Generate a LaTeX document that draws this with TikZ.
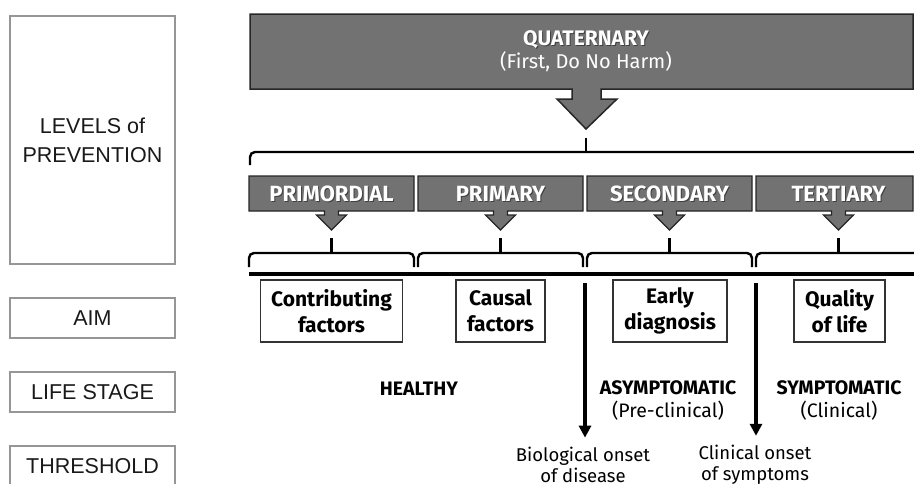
\documentclass[tikz,border=0pt]{standalone}
\usepackage{fontspec}
\setmainfont{Fira Sans}
\newfontfamily\sidefont{Liberation Sans}
\usetikzlibrary{arrows.meta}
\definecolor{boxgray}{RGB}{114,114,114}
\definecolor{edgegray}{RGB}{150,150,150}

\begin{document}
\begin{tikzpicture}[x=1pt, y=-1pt]
 \tikzstyle{sidebox}=[draw=edgegray, line width=1.2pt, minimum width=165pt,
                      inner sep=0pt, align=center, text=black!90,
                      font=\sidefont\fontsize{21.5}{29}\selectfont]
 \tikzstyle{aimbox}=[draw=black!80, line width=1.2pt, minimum height=62pt,
                     inner xsep=11pt, align=center,
                     font=\bfseries\fontsize{21}{26}\selectfont]
 \tikzstyle{lvltext}=[text=white, inner sep=0pt, font=\bfseries\fontsize{22}{24}\selectfont]
 \tikzstyle{lvlshadow}=[text=black!75, inner sep=0pt, font=\bfseries\fontsize{22}{24}\selectfont]
 \tikzstyle{stagetext}=[align=center, font=\fontsize{19.5}{23}\selectfont]
 \tikzstyle{onsettext}=[align=center, font=\fontsize{18.5}{21}\selectfont]
 \tikzstyle{brace}=[draw=black, line width=2.4pt, rounded corners=5pt]
 \tikzstyle{onset}=[-{Triangle[width=12pt,length=12pt]}, line width=3.2pt, shorten >=6pt]

\useasboundingbox (0,0) rectangle (914,483);
\clip (0,0) rectangle (914,483);

% left column
\node[sidebox, minimum height=248pt] (levels) at (92.5,140) {LEVELS of\\PREVENTION};
\node[sidebox, minimum height=40pt] (aim) at (92.5,318) {AIM};
\node[sidebox, minimum height=40pt] (stage) at (92.5,392) {LIFE STAGE};
\node[sidebox, minimum height=40pt] (threshold) at (92.5,466) {THRESHOLD};

% quaternary
\filldraw[fill=boxgray, draw=black!85, line width=1.5pt](250,14)--(913,14)--(913,89)--(601,89)
    --(601,99)--(617,99)--(586,129)--(557,99)--(572,99)--(572,89)--(250,89)--cycle;
\node[lvlshadow, font=\bfseries\fontsize{21}{24}\selectfont] at (587,41) {QUATERNARY};
\node[lvltext, font=\bfseries\fontsize{21}{24}\selectfont] (quat) at (586,40) {QUATERNARY};
\node[lvltext, font=\fontsize{20}{24}\selectfont] (quatsub) at (586,62) {(First, Do No Harm)};

\draw[brace] (250,165)--(250,152)--(930,152);
\draw[line width=2.4pt] (586,152)--(586,138);

% four levels
\foreach \i/\name in {0/PRIMORDIAL, 1/PRIMARY, 2/SECONDARY, 3/TERTIARY}{
  \pgfmathsetmacro\xl{249+169*\i}
  \pgfmathsetmacro\xr{min(\xl+165,913)}
  \pgfmathsetmacro\xc{\xl+82.5}
  \filldraw[fill=boxgray, draw=black!85, line width=1.2pt](\xl,176)--(\xr,176)--(\xr,211)
      --({\xc+7},211)--({\xc+7},215)--({\xc+15},215)--(\xc,230)--({\xc-15},215)
      --({\xc-7},215)--({\xc-7},211)--(\xl,211)--cycle;
  \node[lvlshadow] at ({\xc+1},195) {\name};
  \node[lvltext] (lvl\i) at (\xc,194) {\name};
  \draw[brace] (\xl,267)--(\xl,253)--({\xl+165},253)--({\xl+165},267);
  \draw[line width=2.4pt] (\xc,253)--(\xc,238);
}

\draw[line width=3.5pt] (249,274)--(914,274);

% aims
\node[aimbox] (contrib) at (331.5,311) {Contributing\\factors};
\node[aimbox] (causal) at (500.5,311) {Causal\\factors};
\node[aimbox] (early) at (670,311) {Early\\diagnosis};
\node[aimbox] (quality) at (839.5,311) {Quality\\of life};

% life stages
\node[stagetext] (healthy) at (419,389) {\textbf{HEALTHY}};
\node[stagetext] (asym) at (668,400) {\textbf{ASYMPTOMATIC}\\(Pre-clinical)};
\node[stagetext] (sym) at (839,400) {\textbf{SYMPTOMATIC}\\(Clinical)};

% thresholds
\node[onsettext] (bio) at (583,465) {Biological onset\\of disease};
\node[onsettext] (clin) at (755,465) {Clinical onset\\of symptoms};
\coordinate (biotop) at (585,283);
\coordinate (clintop) at (756,283);
\draw[onset] (biotop)--(biotop |- bio.north);
\draw[onset] (clintop)--(clintop |- clin.north);

\end{tikzpicture}
\end{document}
